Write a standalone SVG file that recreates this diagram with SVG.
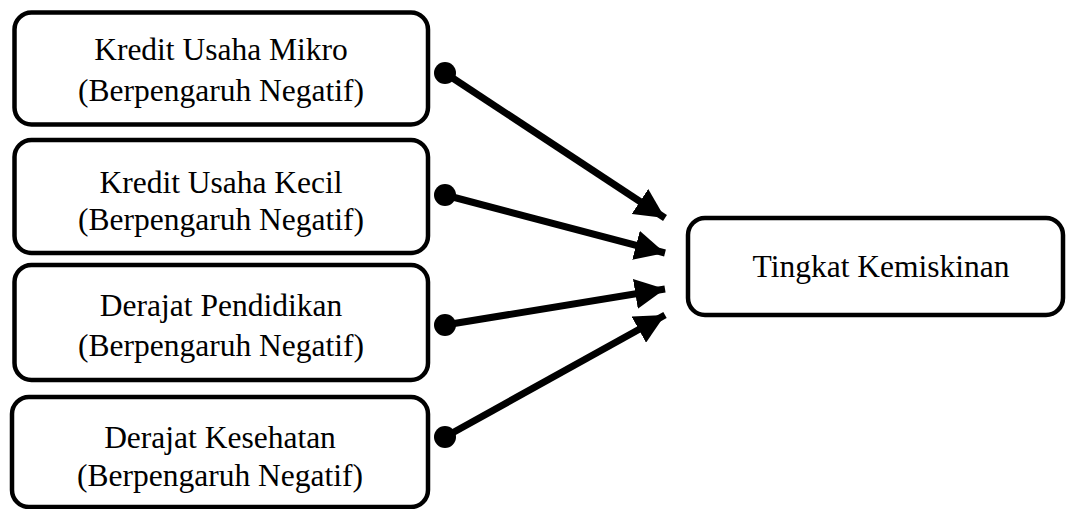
<svg xmlns="http://www.w3.org/2000/svg" width="1066" height="509" viewBox="0 0 1066 509">
<style>
.box{fill:#fff;stroke:#000;stroke-width:4.5}
.t{font-family:"Liberation Serif","Times New Roman",serif;font-size:31.5px;fill:#000;text-anchor:middle}
.c{stroke:#000;stroke-width:7;fill:none}
</style>
<defs>
<marker id="ah" markerUnits="userSpaceOnUse" markerWidth="30" markerHeight="30" refX="25" refY="12.5" orient="auto" viewBox="0 0 25 25">
<path d="M0,0 L25,12.5 L0,25 Z" fill="#000"/>
</marker>
</defs>
<rect width="1066" height="509" fill="#fff"/>
<g id="n1"><rect class="box" x="14.5" y="12.5" width="413.5" height="112" rx="17"/>
<text class="t" x="221" y="60">Kredit Usaha Mikro</text>
<text class="t" x="221" y="101">(Berpengaruh Negatif)</text></g>
<g id="n2"><rect class="box" x="14.5" y="140" width="413.5" height="113" rx="17"/>
<text class="t" x="221" y="193">Kredit Usaha Kecil</text>
<text class="t" x="221" y="230">(Berpengaruh Negatif)</text></g>
<g id="n3"><rect class="box" x="14.5" y="265" width="413.5" height="115" rx="17"/>
<text class="t" x="221" y="316">Derajat Pendidikan</text>
<text class="t" x="221" y="356">(Berpengaruh Negatif)</text></g>
<g id="n4"><rect class="box" x="12" y="397" width="416" height="110" rx="17"/>
<text class="t" x="220" y="448">Derajat Kesehatan</text>
<text class="t" x="220" y="486">(Berpengaruh Negatif)</text></g>
<g id="n5"><rect class="box" x="688" y="218" width="375" height="97" rx="17"/>
<text class="t" x="881" y="277">Tingkat Kemiskinan</text></g>
<g id="connectors">
<circle cx="445" cy="73" r="11"/>
<line class="c" x1="445" y1="73" x2="665" y2="218" marker-end="url(#ah)"/>
<circle cx="445" cy="195" r="11"/>
<line class="c" x1="445" y1="195" x2="665" y2="253" marker-end="url(#ah)"/>
<circle cx="445" cy="325" r="11"/>
<line class="c" x1="445" y1="325" x2="665" y2="289" marker-end="url(#ah)"/>
<circle cx="445" cy="437" r="11"/>
<line class="c" x1="445" y1="437" x2="665" y2="315" marker-end="url(#ah)"/>
</g>
</svg>
